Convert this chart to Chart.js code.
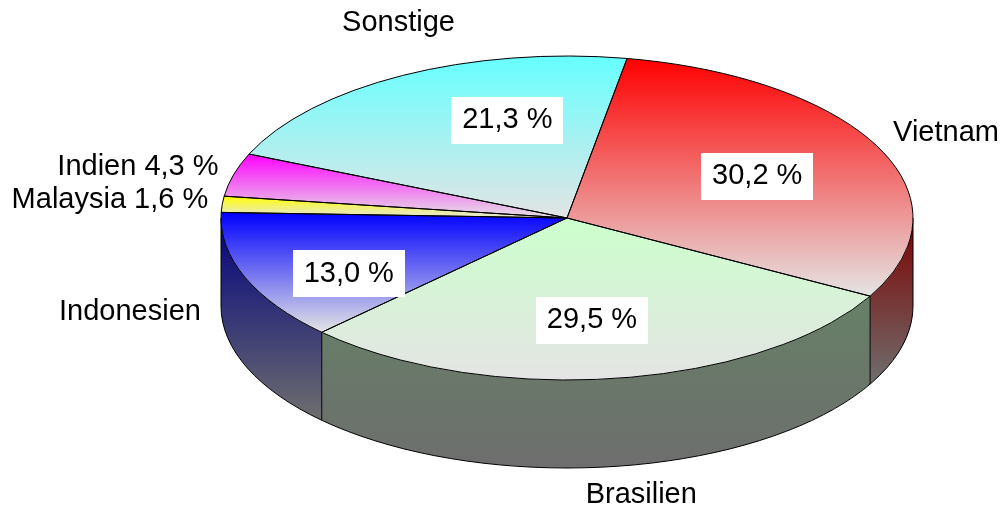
<!DOCTYPE html>
<html>
<head>
<meta charset="utf-8">
<script src="https://cdn.jsdelivr.net/npm/chart.js@4.4.1/dist/chart.umd.min.js"></script>
<style>
  html, body { margin: 0; padding: 0; background: #fff; overflow: hidden; }
  canvas { display: block; }
</style>
</head>
<body>
<canvas id="pie" width="1004" height="510"></canvas>
<script>
// Daten
const laender = ['Vietnam', 'Brasilien', 'Indonesien', 'Malaysia', 'Indien', 'Sonstige'];
const anteile = [30.2, 29.5, 13.0, 1.6, 4.3, 21.3];
const farben = ['#ff0000', '#ccffcc', '#0000ff', '#ffff00', '#ff00ff', '#66ffff'];
const nurAussen = [false, false, false, true, true, false]; // kleine Stücke: Name + Wert aussen

// Layout (Ellipse, Tiefe, Schrift, Feinschliff der Beschriftung)
const RX = 346, RY = 162, TIEFE = 88;
const SCHRIFT = '29px "Liberation Sans", Arial, sans-serif';
const innenVersatz = [[3, 0], [-4, 6], [-25, 20], [0, 0], [0, 0], [39, -12]];
const aussenVersatz = [[14, -15], [26, 29], [-44, 3], [-14, -4], [-15, -8], [-4, -52]];

const fmt = v => v.toFixed(1).replace('.', ',') + ' %';

function dunkel(hex) {
    const n = parseInt(hex.slice(1), 16);
    const r = (n >> 16) & 255, g = (n >> 8) & 255, b = n & 255;
    return 'rgb(' + Math.round(r * 0.5) + ',' + Math.round(g * 0.5) + ',' + Math.round(b * 0.5) + ')';
}

function enthaelt(s, e, t) {
    let x = t;
    while (x < s) x += 2 * Math.PI;
    while (x - 2 * Math.PI >= s) x -= 2 * Math.PI;
    return x <= e;
}

// vorderer (sichtbarer) Teil eines Winkelbereichs
function sichtbar(s, e) {
    const out = [];
    for (let n = -1; n <= 1; n++) {
        const lo = Math.max(s, 2 * Math.PI * n), hi = Math.min(e, 2 * Math.PI * n + Math.PI);
        if (hi > lo) out.push([lo, hi]);
    }
    return out;
}

function geo(arc) {
    return { cx: arc.x, cy: arc.y, r: arc.outerRadius, rx: RX, ry: RY };
}

const pie3d = {
    id: 'pie3d',
    beforeDatasetsDraw(chart) {
        const ctx = chart.ctx;
        const arcs = chart.getDatasetMeta(0).data;
        const g = geo(arcs[0]);

        // Seitenwände
        arcs.forEach((arc, i) => {
            sichtbar(arc.startAngle, arc.endAngle).forEach(([a1, a2]) => {
                const y0 = g.cy + g.ry * Math.min(Math.sin(a1), Math.sin(a2));
                const maxSin = (a1 <= Math.PI / 2 && a2 >= Math.PI / 2) ? 1 : Math.max(Math.sin(a1), Math.sin(a2));
                const y1 = g.cy + g.ry * maxSin + TIEFE;
                const grad = ctx.createLinearGradient(0, y0, 0, y1);
                grad.addColorStop(0, dunkel(farben[i]));
                grad.addColorStop(1, '#6e6e6e');
                ctx.beginPath();
                ctx.ellipse(g.cx, g.cy, g.rx, g.ry, 0, a1, a2);
                ctx.ellipse(g.cx, g.cy + TIEFE, g.rx, g.ry, 0, a2, a1, true);
                ctx.closePath();
                ctx.fillStyle = grad;
                ctx.fill();
            });
        });

        // Umrisse der Seitenwand
        ctx.save();
        ctx.strokeStyle = '#000';
        ctx.lineWidth = 1;
        ctx.beginPath();
        ctx.ellipse(g.cx, g.cy + TIEFE, g.rx, g.ry, 0, 0, Math.PI);
        const kanten = [0, Math.PI];
        arcs.forEach(arc => {
            if (Math.sin(arc.startAngle) > 0.001) kanten.push(arc.startAngle);
        });
        kanten.forEach(a => {
            const x = g.cx + g.rx * Math.cos(a), y = g.cy + g.ry * Math.sin(a);
            ctx.moveTo(x, y);
            ctx.lineTo(x, y + TIEFE);
        });
        ctx.stroke();
        ctx.restore();

        // Verläufe der Deckflächen (im unverzerrten Raum)
        arcs.forEach((arc, i) => {
            const s = arc.startAngle, e = arc.endAngle, r = arc.outerRadius;
            const ys = [arc.y, arc.y + r * Math.sin(s), arc.y + r * Math.sin(e)];
            if (enthaelt(s, e, -Math.PI / 2)) ys.push(arc.y - r);
            if (enthaelt(s, e, Math.PI / 2)) ys.push(arc.y + r);
            const grad = ctx.createLinearGradient(0, Math.min(...ys), 0, Math.max(...ys));
            grad.addColorStop(0, farben[i]);
            grad.addColorStop(1, '#e4e4e4');
            arc.options.backgroundColor = grad;
        });

        // Kreis -> Ellipse
        ctx.save();
        ctx.translate(g.cx, g.cy);
        ctx.scale(g.rx / g.r, g.ry / g.r);
        ctx.translate(-g.cx, -g.cy);
    },
    afterDatasetsDraw(chart) {
        const ctx = chart.ctx;
        ctx.restore();
        const arcs = chart.getDatasetMeta(0).data;
        const g = geo(arcs[0]);

        // Umrisse der Deckflächen
        ctx.save();
        ctx.strokeStyle = '#000';
        ctx.lineWidth = 1;
        arcs.forEach(arc => {
            const s = arc.startAngle, e = arc.endAngle;
            ctx.beginPath();
            ctx.moveTo(g.cx, g.cy);
            ctx.lineTo(g.cx + g.rx * Math.cos(s), g.cy + g.ry * Math.sin(s));
            ctx.ellipse(g.cx, g.cy, g.rx, g.ry, 0, s, e);
            ctx.closePath();
            ctx.stroke();
        });

        // Beschriftung
        ctx.font = SCHRIFT;
        ctx.textBaseline = 'middle';
        arcs.forEach((arc, i) => {
            const m = (arc.startAngle + arc.endAngle) / 2;
            const c = Math.cos(m), s = Math.sin(m);

            const [ax, ay] = aussenVersatz[i];
            const x = g.cx + g.rx * c + ax;
            const y = g.cy + g.ry * s + TIEFE * Math.max(s, 0) + ay;
            ctx.textAlign = c > 0.5 ? 'left' : (c < -0.5 ? 'right' : 'center');
            ctx.fillStyle = '#000';
            ctx.fillText(nurAussen[i] ? laender[i] + ' ' + fmt(anteile[i]) : laender[i], x, y);

            if (!nurAussen[i]) {
                const [ix, iy] = innenVersatz[i];
                const px = g.cx + g.rx * 0.6 * c + ix;
                const py = g.cy + g.ry * 0.6 * s + iy;
                const txt = fmt(anteile[i]);
                const w = ctx.measureText(txt).width;
                ctx.fillStyle = '#fff';
                ctx.fillRect(Math.round(px - w / 2 - 11), Math.round(py - 23.5), Math.round(w + 22), 47);
                ctx.fillStyle = '#000';
                ctx.textAlign = 'center';
                ctx.fillText(txt, px, py);
            }
        });
        ctx.restore();
    }
};

const ctx = document.getElementById('pie').getContext('2d');
const chart = new Chart(ctx, {
    type: 'pie',
    data: {
        labels: laender,
        datasets: [{
            data: anteile,
            backgroundColor: farben.slice(),
            borderWidth: 0,
            clip: false,
        }]
    },
    options: {
        responsive: false,
        devicePixelRatio: 1,
        animation: false,
        events: [],
        rotation: 10,
        layout: {
            padding: { left: 130, right: 0, top: 0, bottom: 74 }
        },
        plugins: {
            legend: { display: false },
            tooltip: { enabled: false }
        }
    },
    plugins: [pie3d]
});
</script>
</body>
</html>
